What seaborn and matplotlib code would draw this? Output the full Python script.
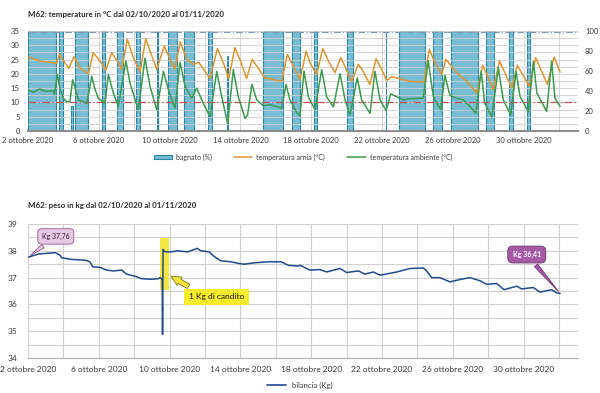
import matplotlib
matplotlib.use("Agg")
import matplotlib.pyplot as plt
import seaborn as sns
from matplotlib.patches import Rectangle, Patch
from matplotlib.lines import Line2D
from matplotlib.ticker import MultipleLocator

# x values are days since 2 ottobre 2020 00:00
tick_days = [0, 4, 8, 12, 16, 20, 24, 28]
tick_labels = ["2 ottobre 2020", "6 ottobre 2020", "10 ottobre 2020", "14 ottobre 2020",
               "18 ottobre 2020", "22 ottobre 2020", "26 ottobre 2020", "30 ottobre 2020"]

# bagnato (%) - wet periods
wet_start = [0.0, 1.75, 2.4, 2.65, 4.2, 5.0, 6.1, 7.3, 7.9, 8.8, 10.15, 11.25, 13.3, 14.9,
             16.15, 18.0, 20.2, 20.95, 22.9, 23.9, 25.9, 27.2, 28.2]
wet_end = [1.6, 2.0, 2.55, 3.4, 4.35, 5.35, 6.3, 7.35, 8.4, 9.4, 10.4, 11.3, 14.4, 15.35,
           16.3, 18.35, 20.25, 22.4, 23.4, 25.4, 26.3, 27.4, 28.35]
wet_level = [100, 100, 25, 100, 100, 100, 100, 100, 100, 100, 100, 75, 100, 100,
             100, 100, 100, 100, 100, 100, 100, 100, 100]

# temperatura arnia (°C)
arnia_days = [0, 0.68, 1.43, 1.62, 1.77, 2.3, 2.6, 2.94, 3.41, 3.69, 4.07, 4.4, 4.73, 5.1, 5.29,
              5.61, 5.95, 6.33, 6.65, 7.0, 7.27, 7.7, 8.02, 8.3, 8.6, 8.96, 9.34, 9.64, 10.28,
              10.7, 11.03, 11.34, 11.69, 12.0, 12.35, 12.67, 12.92, 13.39, 14.33, 14.65, 14.99,
              15.37, 15.71, 15.93, 16.31, 16.65, 16.97, 17.34, 17.67, 18.29, 18.66, 18.94, 19.32,
              19.66, 19.98, 20.26, 20.55, 21.02, 21.58, 22.37, 22.67, 22.99, 23.37, 23.61, 24.21,
              24.78, 25.35, 25.69, 26.29, 26.63, 27.33, 27.64, 28.32, 28.68, 29.34, 29.72, 30.06]
arnia_temp = [26.0, 24.5, 23.9, 23.7, 26.8, 21.9, 26.0, 22.1, 20.1, 27.4, 24.5, 21.3, 27.4, 23.9, 21.6,
              32.1, 25.7, 20.6, 32.3, 26.2, 21.6, 29.8, 25.1, 21.6, 31.3, 25.1, 23.3, 24.1, 18.4,
              28.9, 23.9, 18.4, 29.2, 24.5, 18.4, 25.1, 22.7, 18.6, 17.4, 26.8, 22.7,
              18.0, 28.0, 23.9, 19.8, 28.9, 24.5, 20.4, 25.7, 17.4, 23.4, 20.8, 16.3,
              25.3, 21.6, 17.7, 19.0, 18.3, 17.4, 17.1, 28.6, 23.9, 19.8, 25.1, 20.4,
              17.4, 13.3, 23.0, 14.5, 24.5, 15.1, 23.0, 15.7, 25.7, 16.3, 25.9, 20.6]

# temperatura ambiente (°C)
amb_days = [0, 0.28, 0.66, 1.03, 1.43, 1.49, 1.66, 1.81, 2.0, 2.18, 2.37, 2.52, 2.66, 2.85, 3.32,
            3.6, 3.79, 3.97, 4.35, 4.54, 4.82, 5.1, 5.53, 5.76, 6.23, 6.61, 6.89, 7.27, 7.65,
            7.93, 8.3, 8.59, 8.87, 9.25, 9.53, 9.9, 10.28, 10.66, 10.94, 11.28, 11.6, 11.88,
            12.26, 12.4, 12.65, 12.92, 13.3, 13.67, 14.33, 14.57, 14.8, 15.2, 15.36, 15.59,
            15.84, 16.22, 16.59, 16.87, 17.25, 17.63, 17.91, 18.19, 18.6, 18.85, 19.32, 19.6,
            19.89, 20.23, 20.49, 20.83, 21.2, 21.58, 22.33, 22.61, 22.9, 23.31, 23.55, 23.84,
            24.21, 24.59, 24.97, 25.3, 25.6, 25.8, 26.2, 26.57, 26.85, 27.27, 27.57, 27.8,
            28.27, 28.55, 28.75, 29.3, 29.58, 29.77, 30.06]
amb_temp = [14.5, 13.5, 14.7, 13.8, 14.1, 12.7, 19.8, 14.5, 11.5, 10.3, 10.3, 18.0, 15.0, 10.9, 9.7,
            19.2, 14.5, 11.5, 9.7, 19.8, 13.3, 8.6, 24.5, 16.8, 7.4, 25.5, 15.7, 7.4, 20.9,
            14.5, 8.0, 24.1, 15.7, 11.5, 15.0, 9.7, 5.0, 20.9, 12.0, 2.6, 21.5, 12.0,
            4.4, 5.6, 16.3, 10.9, 8.8, 9.2, 8.0, 16.3, 10.9, 6.2, 5.3, 20.9,
            12.0, 7.4, 21.5, 12.0, 8.4, 20.1, 10.9, 5.6, 18.6, 10.9, 6.2, 20.9,
            10.9, 7.1, 13.0, 12.0, 10.9, 11.3, 11.5, 24.6, 12.0, 7.4, 19.5, 12.4,
            11.5, 10.9, 8.6, 6.2, 21.0, 9.7, 5.0, 22.0, 10.9, 5.6, 20.9, 12.0,
            6.8, 24.3, 13.3, 6.8, 24.4, 11.5, 8.6]

# bilancia (Kg)
weight_days = [0, 0.58, 1.53, 1.81, 1.9, 2.47, 3.22, 3.5, 3.66, 4.07, 4.45, 4.82, 5.29, 5.57,
               6.05, 6.42, 6.99, 7.36, 7.46, 7.58, 7.6, 7.63, 7.7, 7.79, 8.07, 8.44, 9.0, 9.57,
               9.76, 10.23, 10.5, 10.88, 11.45, 11.9, 12.2, 12.76, 13.5, 14.3, 14.7, 15.27,
               15.37, 15.93, 16.5, 16.87, 17.63, 18.0, 18.66, 19.04, 19.51, 19.89, 20.36, 20.83,
               21.58, 22.33, 22.52, 22.8, 23.27, 23.84, 24.4, 24.97, 25.54, 25.91, 26.48, 26.89,
               27.61, 27.89, 28.55, 28.92, 29.58, 29.87, 30.06]
weight_kg = [37.76, 37.88, 37.93, 37.84, 37.74, 37.68, 37.65, 37.59, 37.4, 37.38, 37.28, 37.25, 37.28, 37.13,
             37.05, 36.96, 36.94, 36.96, 37.0, 36.93, 34.88, 38.05, 37.98, 37.96, 37.96, 38.0, 37.96, 38.09,
             38.0, 37.96, 37.8, 37.63, 37.59, 37.53, 37.5, 37.55, 37.59, 37.59, 37.46, 37.43,
             37.46, 37.28, 37.3, 37.21, 37.34, 37.19, 37.25, 37.13, 37.21, 37.09, 37.15, 37.21,
             37.34, 37.36, 37.25, 37.0, 37.0, 36.84, 36.93, 37.0, 36.88, 36.75, 36.78, 36.55,
             36.68, 36.58, 36.63, 36.46, 36.55, 36.43, 36.41]

band_fill = "#78bdd3"
band_edge = "#2b86a8"
c_arnia = "#dd9531"
c_amb = "#3b9a4e"
c_weight = "#1f4a8e"
grid_c = "#d0d0d0"
text_c = "#3a3a3a"
x_max = 31.07

sns.set_style("white")
plt.rcParams['font.family'] = ['Lato', 'DejaVu Sans']

fig = plt.figure(figsize=(6, 3.93), dpi=100)

# ---- top chart: temperatures + wetness
ax_w = fig.add_axes([0.0467, 0.6667, 0.9166, 0.2543])
ax_t = ax_w.twinx()

for d in range(0, 31, 2):
    ax_w.axvline(d, color=grid_c, lw=0.6, zorder=0)
widths = [e - s for s, e in zip(wet_start, wet_end)]
ax_w.bar(wet_start, wet_level, width=widths, align='edge', color=band_fill,
         edgecolor=band_edge, linewidth=0.8, zorder=2)
ax_w.set_ylim(0, 100)
ax_w.set_yticks(range(0, 101, 20))
ax_w.yaxis.tick_right()
ax_w.set_xlim(0, x_max)
ax_w.set_xticks(tick_days)
ax_w.set_xticklabels(tick_labels)
ax_w.tick_params(axis='both', length=0, labelsize=5.5, labelcolor=text_c, pad=5)
ax_w.tick_params(axis='x', pad=4)

ax_t.yaxis.tick_left()
ax_t.set_ylim(0, 35)
ax_t.set_yticks(range(0, 36, 5))
ax_t.yaxis.set_minor_locator(MultipleLocator(2.5))
ax_t.grid(axis='y', which='both', color=grid_c, lw=0.6)
ax_t.tick_params(axis='y', which='both', length=0, labelsize=5.5, labelcolor=text_c, pad=6)
ax_t.axhline(34.5, color="#8097b8", lw=0.8, ls=(0, (6, 2, 1, 2)))
ax_t.axhline(10, color="#c0504d", lw=0.9, ls=(0, (6, 2, 1, 2)))
sns.lineplot(x=arnia_days, y=arnia_temp, ax=ax_t, color=c_arnia, lw=1.1)
sns.lineplot(x=amb_days, y=amb_temp, ax=ax_t, color=c_amb, lw=1.1)
ax_t.set_xlim(0, x_max)
ax_t.set_ylabel('')
ax_w.set_ylabel('')

for a in (ax_w, ax_t):
    for s in ('top', 'left', 'right', 'bottom'):
        a.spines[s].set_visible(False)
ax_w.spines['bottom'].set_visible(True)
ax_w.spines['bottom'].set_color("#8a8a8a")
ax_w.spines['bottom'].set_linewidth(1.4)

fig.text(0.047, 0.958, "M62: temperature in °C dal 02/10/2020 al 01/11/2020",
         fontsize=5.7, fontweight='bold', color="#2a2a2a")

top_handles = [Patch(facecolor=band_fill, edgecolor=band_edge, lw=0.8),
               Line2D([], [], color=c_arnia, lw=1.1),
               Line2D([], [], color=c_amb, lw=1.1)]
fig.legend(top_handles, ["bagnato (%)", "temperatura arnia (°C)", "temperatura ambiente (°C)"],
           loc='center', bbox_to_anchor=(0.505, 0.6), ncol=3, frameon=False, fontsize=5,
           handlelength=2.6, handleheight=0.6, handletextpad=0.6, columnspacing=3.2,
           labelcolor=text_c)

# ---- bottom chart: weight
ax_b = fig.add_axes([0.0467, 0.089, 0.9166, 0.341])
for d in range(0, 31, 2):
    ax_b.axvline(d, color=grid_c, lw=0.8, zorder=0)
ax_b.set_ylim(34, 39)
ax_b.set_yticks(range(34, 40))
ax_b.yaxis.set_minor_locator(MultipleLocator(0.5))
ax_b.grid(axis='y', which='both', color=grid_c, lw=0.8)
ax_b.set_axisbelow(True)

ax_b.add_patch(Rectangle((7.46, 36.54), 0.5, 1.94, facecolor="#f2e20f", alpha=0.8,
                         edgecolor='none', zorder=1))
sns.lineplot(x=weight_days, y=weight_kg, ax=ax_b, color=c_weight, lw=1.1, zorder=3)
ax_b.set_xlim(0, x_max)
ax_b.set_xticks(tick_days)
ax_b.set_xticklabels(tick_labels)
ax_b.xaxis.set_minor_locator(MultipleLocator(1))
ax_b.tick_params(axis='x', which='both', length=2.5, color=grid_c, labelsize=6,
                 labelcolor=text_c, pad=3)
ax_b.tick_params(axis='y', length=0, labelsize=6, labelcolor=text_c, pad=8)
ax_b.set_ylabel('')
for s in ('top', 'left', 'right'):
    ax_b.spines[s].set_visible(False)
ax_b.spines['bottom'].set_color("#b0b0b0")

ax_b.annotate("Kg 37,76", xy=(weight_days[0], weight_kg[0]), xytext=(20, 15),
              textcoords='offset points', ha='center', va='center', fontsize=5, color="#222222",
              bbox=dict(boxstyle='round,pad=0.6', fc="#e9c7e6", ec="#8c5a8a", lw=0.6),
              arrowprops=dict(arrowstyle='wedge,tail_width=0.6', fc="#e9c7e6", ec="#8c5a8a", lw=0.6),
              zorder=5)
ax_b.annotate("Kg 36,41", xy=(weight_days[-1], weight_kg[-1]), xytext=(-24, 28),
              textcoords='offset points', ha='center', va='center', fontsize=5, color="white",
              fontweight='bold',
              bbox=dict(boxstyle='round,pad=0.7', fc="#a55aa6", ec="#6e356f", lw=0.6),
              arrowprops=dict(arrowstyle='wedge,tail_width=0.6', fc="#a55aa6", ec="#6e356f", lw=0.6),
              zorder=5)
ax_b.annotate("", xy=(7.95, 37.1), xytext=(9.2, 36.62),
              arrowprops=dict(arrowstyle='simple,head_length=0.7,head_width=0.7,tail_width=0.35',
                              fc="#f3e83a", ec="#7d7420", lw=0.6), zorder=4)
ax_b.text(10.65, 36.28, "1 Kg di candito", ha='center', va='center', fontsize=6, color="#111111",
          bbox=dict(boxstyle='square,pad=0.55', fc="#f6ec2c", ec='none'), zorder=4)

fig.text(0.047, 0.472, "M62: peso in kg dal 02/10/2020 al 01/11/2020",
         fontsize=5.7, fontweight='bold', color="#2a2a2a")

fig.legend([Line2D([], [], color=c_weight, lw=1.2)], ["bilancia (Kg)"],
           loc='center', bbox_to_anchor=(0.5, 0.02), frameon=False, fontsize=5.5,
           handlelength=2.5, labelcolor=text_c)

fig.savefig("out.png", dpi=100)
